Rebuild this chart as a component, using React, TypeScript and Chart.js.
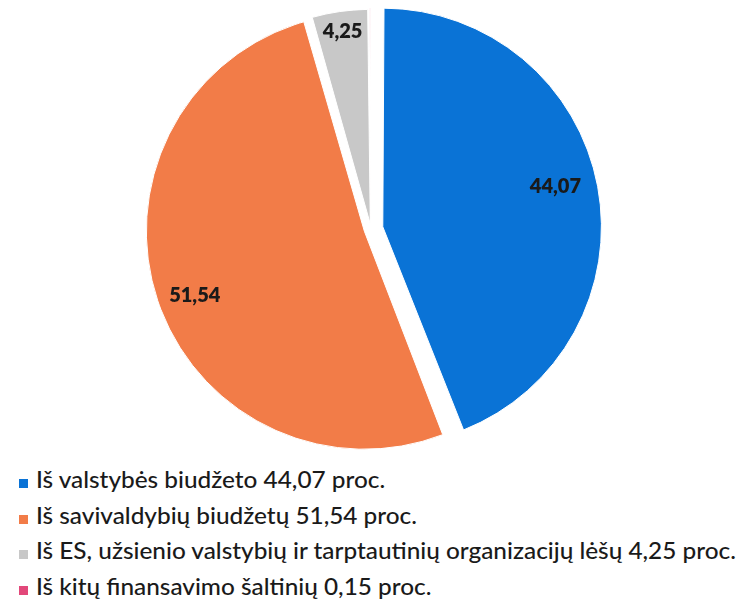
import React, { useEffect, useRef } from "react";
import { Chart, registerables } from "chart.js";

Chart.register(...registerables);

// ---- data ----
const categories = [
  "Iš valstybės biudžeto",
  "Iš savivaldybių biudžetų",
  "Iš ES, užsienio valstybių ir tarptautinių organizacijų lėšų",
  "Iš kitų finansavimo šaltinių",
];
const shares = [44.07, 51.54, 4.25, 0.15];
const unit = "proc.";

// ---- styles ----
const colors = ["#0A73D6", "#F27C48", "#C8C8C8", "#E2487A"];
// Chart.js draws an arc shifted by offset / 4 pixels
const offsets = [48, 28, 20, 20];
const labelRadius: (number | null)[] = [0.84, 0.86, 0.92, null];
const labelAngleShiftDeg = [-2.4, -2.2, 0, 0];

const fmt = (v: number) => v.toFixed(2).replace(".", ",");
const legendText = (i: number) => `${categories[i]} ${fmt(shares[i])} ${unit}`;

const legendFont = "500 23px Lato, 'Open Sans', sans-serif";
const LEGEND_TARGET_WIDTH = 701;

function legendScale(): number {
  try {
    const c = document.createElement("canvas").getContext("2d");
    if (!c) return 1;
    c.font = legendFont;
    const widest = Math.max(...categories.map((_, i) => c.measureText(legendText(i)).width));
    return widest > 0 ? LEGEND_TARGET_WIDTH / widest : 1;
  } catch {
    return 1;
  }
}

const sliceLabels = {
  id: "sliceLabels",
  afterDatasetsDraw(chart: any) {
    const ctx = chart.ctx as CanvasRenderingContext2D;
    const meta = chart.getDatasetMeta(0);
    ctx.save();
    ctx.font = "800 20px Lato, 'Liberation Sans', sans-serif";
    ctx.fillStyle = "#1a1a1a";
    ctx.textAlign = "center";
    ctx.textBaseline = "middle";
    meta.data.forEach((arc: any, i: number) => {
      const f = labelRadius[i];
      if (f == null) return;
      const p = arc.getProps(["x", "y", "startAngle", "endAngle", "outerRadius"], true);
      const mid = (p.startAngle + p.endAngle) / 2;
      const off = (arc.options.offset || 0) / 4;
      const ox = p.x + Math.cos(mid) * off;
      const oy = p.y + Math.sin(mid) * off;
      const a = mid + (labelAngleShiftDeg[i] * Math.PI) / 180;
      const d = p.outerRadius * f;
      ctx.fillText(fmt(shares[i]), ox + Math.cos(a) * d, oy + Math.sin(a) * d);
    });
    ctx.restore();
  },
};

export default function App() {
  const ref = useRef<HTMLCanvasElement>(null);

  useEffect(() => {
    if (!ref.current) return;
    const chart = new Chart(ref.current, {
      type: "pie",
      data: {
        labels: categories,
        datasets: [
          {
            data: shares,
            backgroundColor: colors,
            borderColor: "#ffffff",
            borderWidth: 1,
            offset: offsets,
          } as any,
        ],
      },
      options: {
        responsive: false,
        animation: false,
        radius: 211,
        layout: { padding: { left: 0, right: 2, top: 0, bottom: 2 } },
        events: [],
        plugins: {
          legend: { display: false },
          tooltip: { enabled: false },
        },
      } as any,
      plugins: [sliceLabels as any],
    });
    return () => chart.destroy();
  }, []);

  const scale = legendScale();

  return (
    <div
      style={{
        position: "fixed",
        left: 0,
        top: 0,
        width: 744,
        height: 605,
        background: "#ffffff",
        overflow: "hidden",
      }}
    >
      <canvas
        ref={ref}
        width={744}
        height={460}
        style={{ position: "absolute", left: 0, top: 0, width: 744, height: 460 }}
      />
      <div style={{ position: "absolute", left: 0, top: 465, width: 744 }}>
        {categories.map((_, i) => (
          <div key={i} style={{ position: "relative", height: 35.5 }}>
            <span
              style={{
                position: "absolute",
                left: 19,
                top: 14,
                width: 9,
                height: 9,
                background: colors[i],
              }}
            />
            <span
              style={{
                position: "absolute",
                left: 36,
                top: 0,
                lineHeight: "35.5px",
                font: legendFont,
                color: "#1a1a1a",
                whiteSpace: "nowrap",
                transform: `scaleX(${scale})`,
                transformOrigin: "left center",
              }}
            >
              {legendText(i)}
            </span>
          </div>
        ))}
      </div>
    </div>
  );
}
